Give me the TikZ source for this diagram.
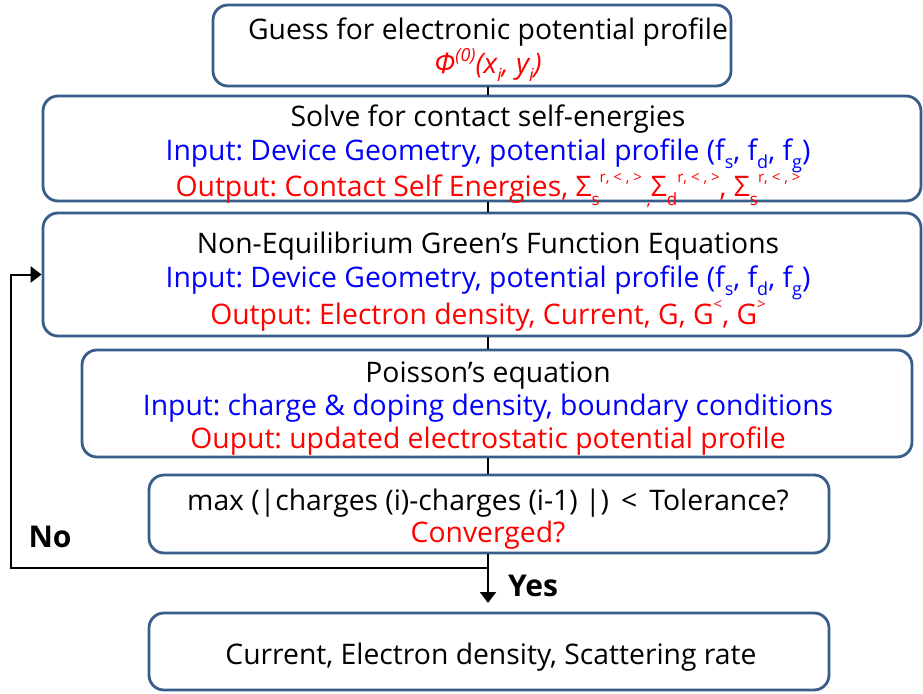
\documentclass[tikz,border=0pt]{standalone}
\usepackage{fontspec}
\setmainfont{Open Sans}
\usetikzlibrary{arrows.meta}
\definecolor{boxblue}{RGB}{56,93,138}
\definecolor{tblue}{RGB}{0,0,255}
\definecolor{tred}{RGB}{255,0,0}
\newcommand\lsub[1]{\raisebox{-0.28em}{\fontsize{18}{18}\selectfont #1}}
\newcommand\lsup[1]{\raisebox{0.42em}{\fontsize{18}{18}\selectfont #1}}
\newcommand\ssup[1]{\raisebox{0.5em}{\fontsize{15}{15}\selectfont #1}}
\newcommand\ssub[1]{\raisebox{-0.3em}{\fontsize{17}{17}\selectfont #1}}
\frenchspacing
\begin{document}
\begin{tikzpicture}[x=1pt,y=-1pt,
  box/.style={draw=boxblue, line width=2.8pt, rounded corners=15pt, fill=white, inner sep=0pt},
  txt/.style={align=center, font=\fontsize{28.3}{34}\selectfont, inner sep=0pt},
  lbl/.style={font=\fontsize{30}{30}\selectfont\bfseries, inner sep=0pt},
  conn/.style={line width=2pt, black},
  arr/.style={conn, -{Triangle[length=11pt,width=16pt]}}]
\useasboundingbox (0,0) rectangle (923,693);
% boxes
\node[box, minimum width=518pt, minimum height=81pt] (b1) at (472,45.5) {};
\node[box, minimum width=878pt, minimum height=105pt] (b2) at (482,148.5) {};
\node[box, minimum width=878pt, minimum height=123pt] (b3) at (482,274.5) {};
\node[box, minimum width=830pt, minimum height=107pt] (b4) at (497,403.5) {};
\node[box, minimum width=680pt, minimum height=78pt] (b5) at (489,514) {};
\node[box, minimum width=680pt, minimum height=77pt] (b6) at (489,651.5) {};
% texts
\node[txt] (t1) at (488,50) {Guess for electronic potential profile\\
  \color{tred}\itshape Φ\lsup{(0)}(x\lsub{i}, y\lsub{i})};
\node[txt] (t2) at (488,156) {Solve for contact self-energies\\
  \color{tblue}Input: Device Geometry, potential profile (f\lsub{s}, f\lsub{d}, f\lsub{g})\\
  \color{tred}Output: Contact Self Energies, Σ\ssub{s}\ssup{r, < , >}\,\ssub{,}Σ\ssub{d}\ssup{r, < , >}, Σ\ssub{s}\ssup{r, < , >}};
\node[txt] (t3) at (488,281.5) {Non-Equilibrium Green’s Function Equations\\
  \color{tblue}Input: Device Geometry, potential profile (f\lsub{s}, f\lsub{d}, f\lsub{g})\\
  \color{tred}Output: Electron density, Current, G, G\ssup{<}, G\ssup{>}};
\node[txt, font=\fontsize{28.3}{33}\selectfont] (t4) at (488,409) {Poisson’s equation\\
  \color{tblue}Input: charge \& doping density, boundary conditions\\
  \color{tred}Ouput: updated electrostatic potential profile};
\node[txt, font=\fontsize{28.3}{32}\selectfont] (t5) at (488,519) {max (|charges (i)-charges (i-1) |) \,<\, Tolerance?\\
  \color{tred}Converged?};
\node[txt] (t6) at (491,657) {Current, Electron density, Scattering rate};
% connectors
\coordinate (sp) at (488,0);
\coordinate (split) at (488,568);
\coordinate (lc) at (11,568);
\coordinate (yesend) at (488,603);
\draw[conn] (b1.south -| sp) -- (b2.north -| sp);
\draw[conn] (b2.south -| sp) -- (b3.north -| sp);
\draw[conn] (b3.south -| sp) -- (b4.north -| sp);
\draw[conn] (b4.south -| sp) -- (b5.north -| sp);
\draw[arr] (b5.south -| sp) -- (yesend);
\draw[arr] (split) -- (lc) |- (b3.west);
% labels
\node[lbl] (no) at (50,537) {No};
\node[lbl] (yes) at (533,586) {Yes};
\end{tikzpicture}
\end{document}
